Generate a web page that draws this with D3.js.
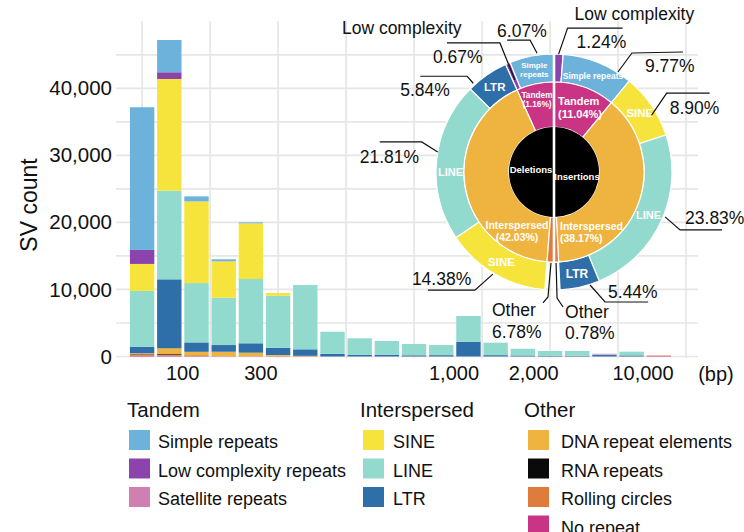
<!DOCTYPE html>
<html><head><meta charset="utf-8">
<script src="https://cdn.jsdelivr.net/npm/d3@7"></script>
<style>body{margin:0;background:#fff}svg{font-family:"Liberation Sans",Arial,Helvetica,sans-serif}</style>
</head><body>
<svg id="c" width="744" height="532"></svg>
<script>
// ---------------- DATA ----------------
const seriesNames = ["Simple repeats","Low complexity repeats","Satellite repeats","SINE","LINE","LTR","DNA repeat elements","RNA repeats","Rolling circles","No repeat"];
const seriesColors = ["#6cb2db","#8b44ac","#cf7fb0","#f6e43c","#92dace","#2e6ea9","#efb440","#0a0a0a","#df7b3b","#c93484"];
// 20 length bins (bar order left to right)
const simpleRepeats = [21280,4810,750,300,150,0,0,0,0,0,0,0,0,0,0,0,0,0,0,0];
const lowComplexity = [2090,1000,0,0,0,0,0,0,0,0,0,0,0,0,0,0,0,0,0,0];
const satellite     = [0,0,0,0,0,0,0,0,0,0,0,0,0,0,0,0,0,100,0,0];
const sine          = [4030,16660,12180,5430,8300,400,0,0,0,0,0,0,0,0,0,0,0,0,0,0];
const line          = [8310,13220,8850,7055,9590,7760,9590,3300,2440,2040,1680,1520,3830,1860,1000,720,720,80,560,0];
const ltr           = [985,10290,1400,1000,1400,1090,970,400,270,270,180,200,2210,200,150,100,100,220,160,0];
const dnaRepeat     = [150,850,500,640,500,120,0,0,0,0,0,0,0,0,0,0,0,0,0,0];
const rnaRepeat     = [80,100,0,0,0,0,0,0,0,0,0,0,0,0,0,0,0,0,0,0];
const rolling       = [150,150,150,50,50,100,100,0,0,0,0,0,0,0,0,0,0,0,0,70];
const noRepeat      = [100,120,50,20,20,0,0,0,0,0,0,0,0,0,0,0,0,0,0,70];
const yTicks = [0,10000,20000,30000,40000];
const xTickLabels = ["100","300","1,000","2,000","10,000"];
const xTickBins = [1.47,4.35,11.45,14.38,18.4]; // positions in bin units

// donut: percentages of all SVs
const delOuterNames = ["Simple repeats","Low complexity repeats","LTR","LINE","SINE","Other"];
const delOuterPct   = [6.07,0.67,5.84,21.81,14.38,6.78];
const insOuterNames = ["Low complexity repeats","Simple repeats","SINE","LINE","LTR","Other"];
const insOuterPct   = [1.24,9.77,8.90,23.83,5.44,0.78];
const delLabelNames = ["Simple repeats","Low complexity","LTR","LINE","SINE","Other"];
const insLabelNames = ["Low complexity","Simple repeats","SINE","LINE","LTR","Other"];
const midNames = ["Tandem","Interspersed","Other"];
const delMidPctText = ["1.16%","42.03%",""];
const insMidPctText = ["11.04%","38.17%",""];
const midGroups = [[0,1],[2,3,4],[5]];

// ---------------- SETUP ----------------
const svg = d3.select("#c");
const col = d3.scaleOrdinal().domain(seriesNames).range(seriesColors);
const panel = {l:116, r:698, b:358};
const x = d3.scaleLinear().domain([-0.96, 20.44]).range([panel.l, panel.r]);
const y = d3.scaleLinear().domain([0, 50000]).range([356.5, 21.25]);
const gridColor = "#e6e6e6";

// grid
svg.append("g").selectAll("line").data(d3.range(0, 45001, 5000)).join("line")
  .attr("x1", panel.l).attr("x2", panel.r).attr("y1", d=>y(d)).attr("y2", d=>y(d))
  .attr("stroke", gridColor).attr("stroke-width", 1.7);
svg.append("g").selectAll("line").data(d3.range(0, 20.01, 2.5)).join("line")
  .attr("x1", d=>x(d)).attr("x2", d=>x(d)).attr("y1", y(50000)).attr("y2", panel.b)
  .attr("stroke", gridColor).attr("stroke-width", 1.7);

// stacked bars
const seriesArrays = {"Simple repeats":simpleRepeats,"Low complexity repeats":lowComplexity,"Satellite repeats":satellite,
  "SINE":sine,"LINE":line,"LTR":ltr,"DNA repeat elements":dnaRepeat,"RNA repeats":rnaRepeat,"Rolling circles":rolling,"No repeat":noRepeat};
const table = simpleRepeats.map((_, i) => { const o = {bin:i}; seriesNames.forEach(k => o[k] = seriesArrays[k][i]); return o; });
const stackKeys = seriesNames.slice().reverse();
const stacked = d3.stack().keys(stackKeys)(table);
const gap = 1.4;
svg.append("g").selectAll("g").data(stacked).join("g").attr("fill", d => col(d.key))
  .selectAll("rect").data(d => d.filter(s => s[1] > s[0])).join("rect")
  .attr("x", d => x(d.data.bin - 0.5) + gap)
  .attr("width", d => x(d.data.bin + 0.5) - x(d.data.bin - 0.5) - 2*gap)
  .attr("y", d => y(d[1])).attr("height", d => y(d[0]) - y(d[1]));

// axes
const yAxis = svg.append("g").attr("transform", `translate(${panel.l},0)`)
  .call(d3.axisLeft(y).tickValues(yTicks).tickFormat(d3.format(",")).tickSize(0).tickPadding(4));
yAxis.select(".domain").remove();
yAxis.selectAll("text").attr("font-size", 20.5).attr("fill", "#111").attr("font-family", null);
const xAxis = svg.append("g").attr("transform", `translate(0,${panel.b})`)
  .call(d3.axisBottom(x).tickValues(xTickBins).tickFormat((d,i) => xTickLabels[i]).tickSize(0).tickPadding(8));
xAxis.select(".domain").remove();
xAxis.selectAll("text").attr("font-size", 20).attr("fill", "#111").attr("font-family", null);
svg.append("text").attr("x", 716).attr("y", 381).attr("text-anchor", "middle").attr("font-size", 20).attr("fill", "#111").text("(bp)");
svg.append("text").attr("transform", "translate(37,205) rotate(-90)").attr("text-anchor", "middle")
  .attr("font-size", 23).attr("fill", "#111").text("SV count");

// ---------------- DONUT ----------------
const cx = 554, cy = 172, rIn = 45, rMid = 90, rOut = 118;
const deg = Math.PI / 180;
const g = svg.append("g").attr("transform", `translate(${cx},${cy})`);
function buildOuter(pcts, sign) {
  let a = 0; const out = [];
  pcts.forEach((p, i) => {
    const span = (i === pcts.length - 1) ? (180 - a) : p * 3.6;
    out.push({i, a0: a, a1: a + span});
    a += span;
  });
  return out.map(o => ({...o, s: sign * o.a0 * deg, e: sign * o.a1 * deg}));
}
const delOuter = buildOuter(delOuterPct, -1);
const insOuter = buildOuter(insOuterPct, 1);
const arcOuter = d3.arc().innerRadius(rMid).outerRadius(rOut);
const arcMid = d3.arc().innerRadius(rIn).outerRadius(rMid);
const arcInner = d3.arc().innerRadius(0).outerRadius(rIn);
const midColors = ["#c93484", "#efb440", "#df7b3b"];

function drawHalf(outer, names) {
  g.append("g").selectAll("path").data(outer.filter(o => names[o.i] !== "Other")).join("path")
    .attr("d", o => arcOuter({startAngle: Math.min(o.s, o.e), endAngle: Math.max(o.s, o.e)}))
    .attr("fill", o => col(names[o.i])).attr("stroke", "#fff").attr("stroke-width", 1.2);
  const mids = midGroups.map((grp, k) => {
    const s = outer[grp[0]].s, e = outer[grp[grp.length - 1]].e;
    return {k, startAngle: Math.min(s, e), endAngle: Math.max(s, e)};
  });
  g.append("g").selectAll("path").data(mids).join("path")
    .attr("d", arcMid).attr("fill", d => midColors[d.k]).attr("stroke", "#fff").attr("stroke-width", 1.2);
  const s = outer[0].s, e = outer[outer.length - 1].e;
  g.append("path").attr("d", arcInner({startAngle: Math.min(s, e), endAngle: Math.max(s, e)})).attr("fill", "#000");
}
drawHalf(delOuter, delOuterNames);
drawHalf(insOuter, insOuterNames);
g.append("line").attr("x1", 0).attr("x2", 0).attr("y1", -rOut - 1).attr("y2", rOut + 1).attr("stroke", "#fff").attr("stroke-width", 2.6);

// white labels inside the outer ring (at arc centroids)
const delInner = [{t:["Simple","repeats"], fs:8}, null, {t:["LTR"], fs:11.5}, {t:["LINE"], fs:11, ny:10}, {t:["SINE"], fs:11.5}, null];
const insInner = [null, {t:["Simple repeats"], fs:8.5}, {t:["SINE"], fs:11.5}, {t:["LINE"], fs:11}, {t:["LTR"], fs:12}, null];
function whiteText(sel, lines, fs, px, py, anchor) {
  const t = sel.append("text").attr("x", px).attr("y", py).attr("text-anchor", anchor || "middle")
    .attr("font-size", fs).attr("font-weight", "bold").attr("fill", "#fff");
  lines.forEach((l, j) => t.append("tspan").attr("x", px).attr("dy", j === 0 ? (0.35 - (lines.length - 1) * 0.55) + "em" : "1.1em").text(l));
}
[[delOuter, delInner], [insOuter, insInner]].forEach(([outer, spec]) => {
  outer.forEach(o => {
    const sp = spec[o.i]; if (!sp) return;
    const c = arcOuter.centroid({startAngle: Math.min(o.s, o.e), endAngle: Math.max(o.s, o.e)});
    whiteText(g, sp.t, sp.fs, c[0], c[1] + (sp.ny || 0));
  });
});
// middle ring labels
function midText(lines, fs, dx, dy, anchor, lh) {
  const t = g.append("text").attr("text-anchor", anchor).attr("font-size", fs).attr("font-weight", "bold").attr("fill", "#fff");
  lines.forEach((l, j) => t.append("tspan").attr("x", dx).attr("y", dy + j * lh).text(l));
}
midText([midNames[0], "(" + delMidPctText[0] + ")"], 8.3, -17, -74, "middle", 9);
midText([midNames[0], "(" + insMidPctText[0] + ")"], 11, 4, -67, "start", 13);
midText([midNames[1], "(" + delMidPctText[1] + ")"], 10.5, -37, 57, "middle", 12);
midText([midNames[1], "(" + insMidPctText[1] + ")"], 10.5, 6, 58, "start", 12);
midText(["Deletions"], 9.5, -23, 1, "middle", 0);
midText(["Insertions"], 9.5, 23, 8, "middle", 0);

// leader-line labels: anchor angle (deg, clockwise from top), radius; points & texts relative to anchor
const delLeaders = [
  {ang:-8.1, r:120, pts:[[-7,-13],[-30,-13]], txt:[[delOuterPct[0]+"%",-40,-16]]},
  {ang:-23, r:100, pts:[[-15,-37],[-68,-37]], txt:[[delLabelNames[1],-173,-46],[delOuterPct[1]+"%",-82,-17]]},
  {ang:-42.3, r:120, pts:[[-6,-7],[-53,-7]], txt:[[delOuterPct[2]+"%",-73,13]]},
  {ang:-80.2, r:118, pts:[[-16,-10],[-58,-10]], txt:[[delOuterPct[3]+"%",-78,11]]},
  {ang:-149.1, r:119, pts:[[-18,16],[-65,16]], txt:[[delOuterPct[4]+"%",-81,11]]},
  {ang:-178.1, r:91, pts:[[-3,34],[-8,40]], txt:[[delLabelNames[5],-59,53],[delOuterPct[5]+"%",-59,75]]}
];
const insLeaders = [
  {ang:2.23, r:118, pts:[[9,-26],[64,-26]], txt:[[insLabelNames[0],16,-34],[insOuterPct[0]+"%",18,-6]]},
  {ang:32.6, r:118.7, pts:[[14,-19],[65,-20]], txt:[[insOuterPct[1]+"%",27,0]]},
  {ang:59.8, r:113, pts:[[15,-22],[58,-22]], txt:[[insOuterPct[2].toFixed(2)+"%",18,-1]]},
  {ang:112, r:119.8, pts:[[15,13],[57,13]], txt:[[insOuterPct[3]+"%",20,7]]},
  {ang:162.3, r:118.6, pts:[[15,17],[58,17]], txt:[[insOuterPct[4]+"%",18,13]]},
  {ang:178.7, r:91, pts:[[1,35],[7,44]], txt:[[insLabelNames[5],9,55],[insOuterPct[5]+"%",9,76]]}
];
const lg = svg.append("g");
delLeaders.concat(insLeaders).forEach(L => {
  const ax = cx + L.r * Math.sin(L.ang * deg), ay = cy - L.r * Math.cos(L.ang * deg);
  const pts = [[ax, ay]].concat(L.pts.map(p => [ax + p[0], ay + p[1]]));
  lg.append("path").attr("d", d3.line()(pts)).attr("fill", "none").attr("stroke", "#111").attr("stroke-width", 1.2);
  L.txt.forEach(t => lg.append("text").attr("x", ax + t[1]).attr("y", ay + t[2]).attr("font-size", 17.5).attr("fill", "#111").text(t[0]));
});

// ---------------- LEGEND ----------------
const legendGroups = [
  {title:"Tandem", items:["Simple repeats","Low complexity repeats","Satellite repeats"], tx:127, sx:129, lx:158},
  {title:"Interspersed", items:["SINE","LINE","LTR"], tx:360, sx:363, lx:393},
  {title:"Other", items:["DNA repeat elements","RNA repeats","Rolling circles","No repeat"], tx:524, sx:528, lx:561}
];
const leg = svg.append("g");
legendGroups.forEach(G => {
  leg.append("text").attr("x", G.tx).attr("y", 417).attr("font-size", 20.5).attr("fill", "#111").text(G.title);
  G.items.forEach((it, j) => {
    leg.append("rect").attr("x", G.sx).attr("y", 430 + j * 28.5).attr("width", 21).attr("height", 20).attr("fill", col(it));
    leg.append("text").attr("x", G.lx).attr("y", 448 + j * 28.5).attr("font-size", 18).attr("fill", "#111").text(it);
  });
});
</script>
</body></html>
